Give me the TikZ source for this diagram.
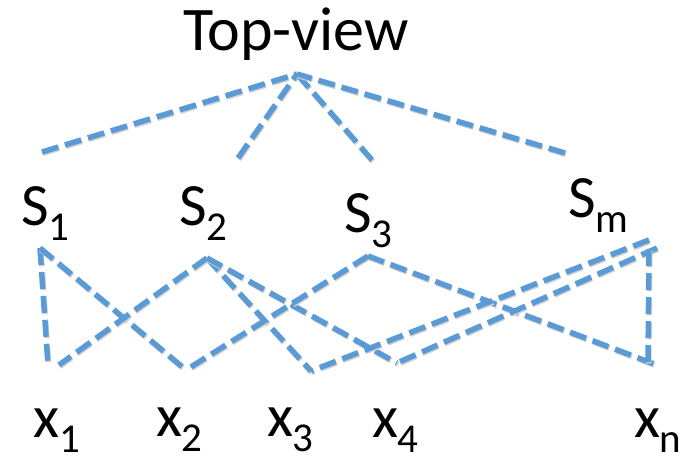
\documentclass[tikz,border=0pt]{standalone}
\usepackage{fontspec}
\setmainfont{Carlito}
\newcommand{\sublbl}[2]{#1\raisebox{-0.25em}{\fontsize{41}{41}\selectfont #2}}
\begin{document}
\begin{tikzpicture}[x=1pt,y=-1pt,
  lbl/.style={anchor=base west,inner sep=0pt,outer sep=0pt,font=\fontsize{60}{60}\selectfont},
  ttl/.style={anchor=base west,inner sep=0pt,outer sep=0pt,font=\fontsize{62}{62}\selectfont},
  link/.style={draw={rgb,255:red,91;green,155;blue,213},line width=5.5pt,dash pattern=on 17pt off 7pt,
    preaction={draw=black!18,line width=5.5pt,dash pattern=on 17pt off 7pt,transform canvas={shift={(0.8pt,-1.4pt)}}}}]
\useasboundingbox (0,0) rectangle (691,456);
% labels
\node[ttl] (top) at (183,50) {Top-view};
\node[lbl] (s1) at (21,225) {\sublbl{S}{1}};
\node[lbl] (s2) at (179,225) {\sublbl{S}{2}};
\node[lbl] (s3) at (344,232) {\sublbl{S}{3}};
\node[lbl] (sm) at (568,217) {\sublbl{S}{m}};
\node[lbl] (x1) at (34,437) {\sublbl{x}{1}};
\node[lbl] (x2) at (156,436) {\sublbl{x}{2}};
\node[lbl] (x3) at (267,436) {\sublbl{x}{3}};
\node[lbl] (x4) at (372,437) {\sublbl{x}{4}};
\node[lbl] (xn) at (634,437) {\sublbl{x}{n}};
% connector points
\coordinate (t) at (297,74);
\coordinate (a1) at (42,152);
\coordinate (a2) at (238,158);
\coordinate (a3) at (372,160);
\coordinate (am) at (565,153);
\coordinate (ps1) at (40,248);
\coordinate (ps2) at (207,258);
\coordinate (ps3) at (368,256);
\coordinate (psma) at (649,240);
\coordinate (psmb) at (657,248);
\coordinate (psmc) at (649,249);
\coordinate (px1a) at (48,365);
\coordinate (px1b) at (59,365);
\coordinate (px2) at (186,370);
\coordinate (px3) at (311,371);
\coordinate (px4) at (397,363);
\coordinate (pxna) at (648,362);
\coordinate (pxnb) at (657,365);
% top fan
\path[link] (a1) -- (t);
\path[link] (a2) -- (t);
\path[link] (a3) -- (t);
\path[link] (am) -- (t);
% bipartite links
\path[link] (ps1) -- (px1a);
\path[link] (ps1) -- (px2);
\path[link] (ps2) -- (px1b);
\path[link] (ps2) -- (px3);
\path[link] (ps2) -- (px4);
\path[link] (ps3) -- (px2);
\path[link] (ps3) -- (pxnb);
\path[link] (psma) -- (px3);
\path[link] (psmb) -- (px4);
\path[link] (psmc) -- (pxna);
\end{tikzpicture}
\end{document}
